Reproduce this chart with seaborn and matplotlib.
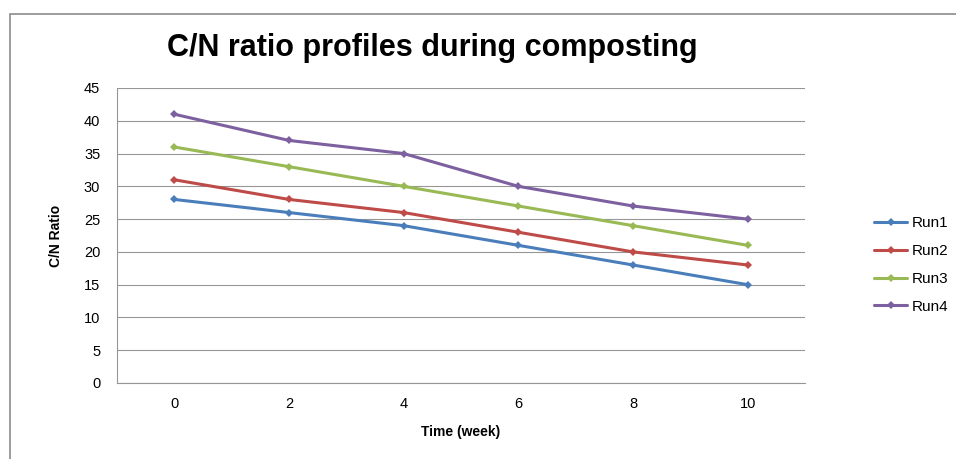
import matplotlib
matplotlib.use("Agg")
import matplotlib.pyplot as plt
import seaborn as sns
import pandas as pd
from matplotlib.patches import Rectangle

weeks = [0, 2, 4, 6, 8, 10]
run1 = [28, 26, 24, 21, 18, 15]
run2 = [31, 28, 26, 23, 20, 18]
run3 = [36, 33, 30, 27, 24, 21]
run4 = [41, 37, 35, 30, 27, 25]
series_names = ["Run1", "Run2", "Run3", "Run4"]
y_ticks = list(range(0, 50, 5))

sns.set_theme(style="white")
plt.rcParams['font.family'] = ['Liberation Sans', 'DejaVu Sans']
plt.rcParams['text.color'] = 'black'

rows = []
for name, vals in zip(series_names, [run1, run2, run3, run4]):
    for w, v in zip(weeks, vals):
        rows.append({"Time (week)": w, "C/N Ratio": v, "Run": name})
df = pd.DataFrame(rows)

colors = ["#4A7EBB", "#BE4B48", "#98B954", "#7D60A0"]

fig = plt.figure(figsize=(9.56, 4.59), dpi=100)
ax = fig.add_axes([117/956, 1-383/459, 688/956, 295/459])

sns.lineplot(data=df, x="Time (week)", y="C/N Ratio", hue="Run",
             palette=colors, marker="D", markersize=4.5, linewidth=2.2,
             markeredgewidth=0, ax=ax, legend=True)

ax.set_xlim(-1, 11)
ax.set_ylim(0, 45)
ax.set_xticks(weeks)
ax.set_xticklabels([str(w) for w in weeks])
ax.set_yticks(y_ticks)
ax.set_yticklabels([str(t) for t in y_ticks])
ax.yaxis.grid(True, color="#969696", linewidth=0.8)
ax.xaxis.grid(False)
for s in ["top", "right"]:
    ax.spines[s].set_visible(False)
for s in ["left", "bottom"]:
    ax.spines[s].set_color("#969696")
    ax.spines[s].set_linewidth(0.8)
ax.tick_params(axis="both", length=0, labelsize=10.5, colors="#000000")
ax.tick_params(axis="y", pad=12)
ax.tick_params(axis="x", pad=10)

ax.set_xlabel("Time (week)", fontsize=10, fontweight="bold", color="black")
ax.set_ylabel("C/N Ratio", fontsize=10, fontweight="bold", color="black")
ax.yaxis.set_label_coords((63-117)/688, 0.5)
ax.xaxis.set_label_coords(0.5, (383-425)/295)

handles, labels = ax.get_legend_handles_labels()
ax.legend(handles, labels, loc="center left",
          bbox_to_anchor=(860/956, 1-265/459), bbox_transform=fig.transFigure,
          frameon=False, fontsize=11, handlelength=2.2, handletextpad=0.3,
          labelspacing=0.9)

fig.text(432/956, 1-48/459, "C/N ratio profiles during composting",
         ha="center", va="center", fontsize=22, fontweight="bold", color="black")

fig.patches.append(Rectangle((10/956, -0.05), 1.1, 1-14/459+0.05,
                             transform=fig.transFigure, fill=False,
                             edgecolor="#8c8c8c", linewidth=1.2))

fig.savefig("out.png", dpi=100)
